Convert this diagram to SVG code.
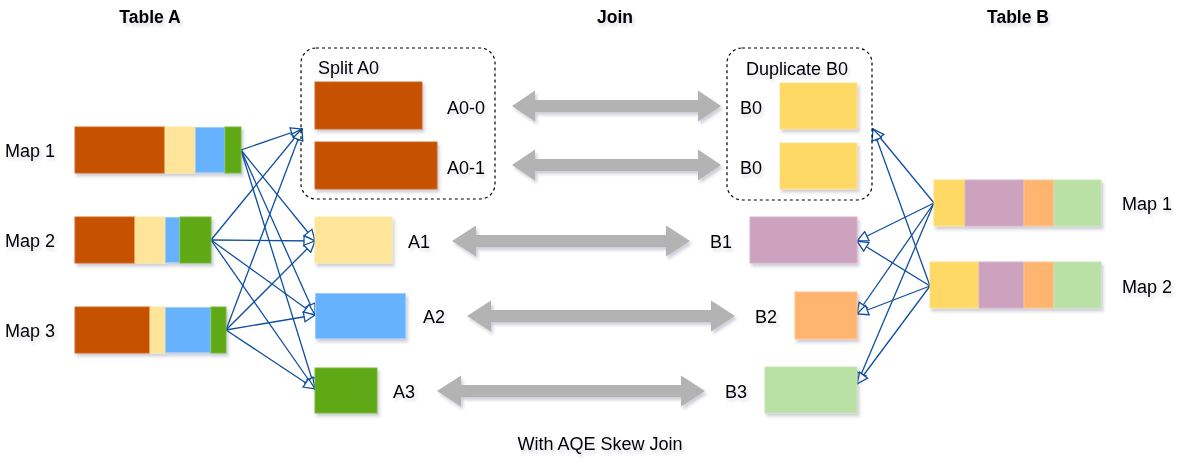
<svg xmlns="http://www.w3.org/2000/svg" width="1194" height="476" viewBox="0 0 1194 476">
<style>
text{font-family:"Liberation Sans",Arial,sans-serif;font-size:18px;fill:#000;filter:url(#ts)}
.title{font-weight:bold;font-size:17.5px;text-anchor:middle}
.box{filter:url(#sh)}
.or{fill:#C65102;stroke:#D0681F}
.ly{fill:#FFE599;stroke:#FFE7A6}
.bl{fill:#66B2FF;stroke:#99CCFF}
.gr{fill:#60A917;stroke:#76B93A}
.yl{fill:#FFD966;stroke:#FFE08A}
.pu{fill:#CDA2BE;stroke:#D6B3CB}
.lo{fill:#FFB570;stroke:#FFC48C}
.lg{fill:#B9E0A5;stroke:#C6E6B5}
.dash{fill:none;stroke:#000;stroke-width:1.2;stroke-dasharray:3 3}
.conn{fill:none;stroke:#0F4FA0;stroke-width:1.3;marker-end:url(#ah)}
.big{fill:#B3B3B3;filter:url(#sh)}
</style>
<defs>
<filter id="sh" x="-20%" y="-30%" width="150%" height="170%">
<feDropShadow dx="2" dy="3" stdDeviation="1.8" flood-color="#3b3b6b" flood-opacity="0.25"/>
</filter>
<filter id="ts" x="-20%" y="-40%" width="150%" height="190%">
<feDropShadow dx="2" dy="3" stdDeviation="1.5" flood-color="#3b3b6b" flood-opacity="0.18"/>
</filter>
<marker id="ah" viewBox="0 0 13 12" refX="12" refY="6" markerWidth="13" markerHeight="12" markerUnits="userSpaceOnUse" orient="auto">
<path d="M1,1 L12,6 L1,11 Z" fill="#fff" stroke="#0F4FA0" stroke-width="1.3"/>
</marker>
</defs>
<rect width="1194" height="476" fill="#fff"/>

<g id="titles">
<text class="title" x="150" y="23">Table A</text>
<text class="title" x="615" y="23">Join</text>
<text class="title" x="1018" y="23">Table B</text>
<text x="600" y="450" text-anchor="middle">With AQE Skew Join</text>
</g>

<g id="connectors">
<path class="conn" d="M241,150 L302,129"/>
<path class="conn" d="M241,150 L315,241"/>
<path class="conn" d="M241,150 L315,315"/>
<path class="conn" d="M241,150 L315,389"/>
<path class="conn" d="M211,240 L302,129"/>
<path class="conn" d="M211,240 L315,241"/>
<path class="conn" d="M211,240 L315,315"/>
<path class="conn" d="M211,240 L315,389"/>
<path class="conn" d="M226,330 L302,129"/>
<path class="conn" d="M226,330 L315,241"/>
<path class="conn" d="M226,330 L315,315"/>
<path class="conn" d="M226,330 L315,389"/>
<path class="conn" d="M934,203 L873,129"/>
<path class="conn" d="M934,203 L857,241"/>
<path class="conn" d="M934,203 L857,314"/>
<path class="conn" d="M934,203 L857,384"/>
<path class="conn" d="M930,286 L873,129"/>
<path class="conn" d="M930,286 L857,241"/>
<path class="conn" d="M930,286 L857,314"/>
<path class="conn" d="M930,286 L857,384"/>
<polygon class="big" points="512,106 535,90.5 535,100 698,100 698,90.5 721,106 698,121.5 698,112 535,112 535,121.5"/>
<polygon class="big" points="512,165 535,149.5 535,159 698,159 698,149.5 721,165 698,180.5 698,171 535,171 535,180.5"/>
<polygon class="big" points="452,241 476,225.5 476,235 666,235 666,225.5 690,241 666,256.5 666,247 476,247 476,256.5"/>
<polygon class="big" points="467,316 491,300.5 491,310 711,310 711,300.5 735,316 711,331.5 711,322 491,322 491,331.5"/>
<polygon class="big" points="437,391 461,375.5 461,385 681,385 681,375.5 705,391 681,406.5 681,397 461,397 461,406.5"/>
</g>

<g id="mapA1">
<g class="box">
<rect class="or" x="75" y="127" width="90" height="46"/>
<rect class="ly" x="165" y="127" width="30" height="46"/>
<rect class="bl" x="195.5" y="127.5" width="29" height="45"/>
<rect class="gr" x="225" y="127" width="16" height="46"/>
</g>
<text x="5" y="156.5">Map 1</text>
</g>
<g id="mapA2">
<g class="box">
<rect class="or" x="75" y="217" width="60" height="46"/>
<rect class="ly" x="135" y="217" width="30" height="46"/>
<rect class="bl" x="165.5" y="217.5" width="14" height="45"/>
<rect class="gr" x="180" y="217" width="31" height="46"/>
</g>
<text x="5" y="246.5">Map 2</text>
</g>
<g id="mapA3">
<g class="box">
<rect class="or" x="75" y="307" width="75" height="46"/>
<rect class="ly" x="150" y="307" width="15" height="46"/>
<rect class="bl" x="165.5" y="307.5" width="45" height="45"/>
<rect class="gr" x="211" y="307" width="15" height="46"/>
</g>
<text x="5" y="336.5">Map 3</text>
</g>

<g id="splitA0">
<rect class="dash" x="301" y="48" width="194" height="151" rx="15"/>
<text x="318" y="74">Split A0</text>
</g>
<g id="A0-0">
<rect class="box or" x="315" y="82" width="107" height="47"/>
<text x="447" y="113.5">A0-0</text>
</g>
<g id="A0-1">
<rect class="box or" x="315" y="142" width="122" height="47"/>
<text x="447" y="173.5">A0-1</text>
</g>
<g id="A1">
<rect class="box ly" x="315" y="217" width="77" height="46"/>
<text x="408" y="247.5">A1</text>
</g>
<g id="A2">
<rect class="box bl" x="315.5" y="293.5" width="90" height="45"/>
<text x="423" y="322.5">A2</text>
</g>
<g id="A3">
<rect class="box gr" x="315" y="368" width="62" height="45"/>
<text x="393" y="397.5">A3</text>
</g>

<g id="duplicateB0">
<rect class="dash" x="727" y="48" width="145" height="152" rx="15"/>
<text x="746" y="75">Duplicate B0</text>
</g>
<g id="B0-0">
<rect class="box yl" x="780" y="83" width="77" height="46"/>
<text x="740" y="113.5">B0</text>
</g>
<g id="B0-1">
<rect class="box yl" x="780" y="143" width="77" height="46"/>
<text x="740" y="173.5">B0</text>
</g>
<g id="B1">
<rect class="box pu" x="750" y="217" width="107" height="46"/>
<text x="710" y="247.5">B1</text>
</g>
<g id="B2">
<rect class="box lo" x="795" y="292" width="62" height="47"/>
<text x="755" y="322.5">B2</text>
</g>
<g id="B3">
<rect class="box lg" x="765" y="367" width="92" height="46"/>
<text x="725" y="397.5">B3</text>
</g>

<g id="mapB1">
<g class="box">
<rect class="yl" x="934" y="180" width="31" height="46"/>
<rect class="pu" x="965" y="180" width="59" height="46"/>
<rect class="lo" x="1024" y="180" width="30" height="46"/>
<rect class="lg" x="1054" y="180" width="47" height="46"/>
</g>
<text x="1122" y="209.5">Map 1</text>
</g>
<g id="mapB2">
<g class="box">
<rect class="yl" x="930" y="262" width="49" height="46"/>
<rect class="pu" x="979" y="262" width="45" height="46"/>
<rect class="lo" x="1024" y="262" width="30" height="46"/>
<rect class="lg" x="1054" y="262" width="47" height="46"/>
</g>
<text x="1122" y="292.5">Map 2</text>
</g>
</svg>
